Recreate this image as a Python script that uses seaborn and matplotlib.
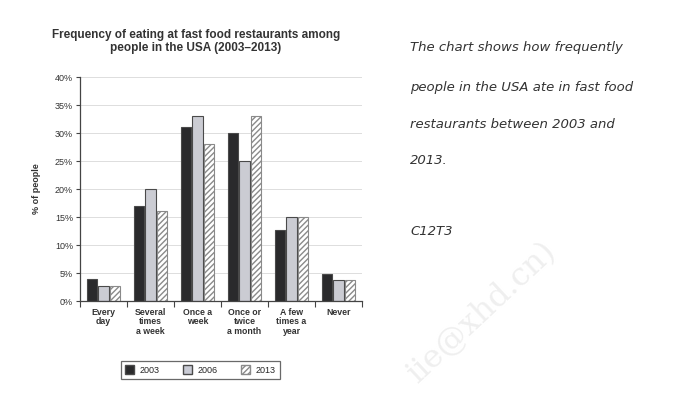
import pandas as pd
import numpy as np
import matplotlib.pyplot as plt
import seaborn as sns
from matplotlib.patches import Patch

categories = ["Every\nday", "Several\ntimes\na week", "Once a\nweek", "Once or\ntwice\na month", "A few\ntimes a\nyear", "Never"]
years = ["2003", "2006", "2013"]
vals_2003 = [4, 17, 31, 30, 12.7, 4.8]
vals_2006 = [2.7, 20, 33, 25, 15, 3.8]
vals_2013 = [2.7, 16, 28, 33, 15, 3.8]

df = pd.DataFrame({
    "cat": categories * 3,
    "year": [y for y in years for _ in categories],
    "pct": vals_2003 + vals_2006 + vals_2013,
})

sns.set_style("white")
plt.rcParams["font.family"] = ["Liberation Sans", "DejaVu Sans"]

fig = plt.figure(figsize=(6.99, 3.93), dpi=100)
ax = fig.add_axes([0.1144, 0.234, 0.4036, 0.570])

colors = {"2003": "#2a2a2c", "2006": "#c9cbd5", "2013": "#ffffff"}
sns.barplot(data=df, x="cat", y="pct", hue="year", palette=colors, order=categories,
            width=0.74, gap=0.12, edgecolor="#4a4a4a", linewidth=0.8, ax=ax, legend=False)

# hatch the 2013 bars
for bar in ax.containers[2]:
    bar.set_hatch("//////")
    bar.set_edgecolor("#8a8a8a")

ax.set_ylim(0, 40)
ax.set_xlim(-0.5, len(categories) - 0.5)
ax.set_yticks(np.arange(0, 41, 5))
ax.set_yticklabels([f"{v}%" for v in range(0, 41, 5)], fontsize=6.5, color="#333333")
ax.yaxis.grid(True, color="#dddddd", linewidth=0.7)
ax.set_axisbelow(True)
ax.tick_params(axis="y", length=3, width=0.8, color="#444444", pad=2, left=True)

ax.set_xticks(range(len(categories)))
ax.set_xticklabels(categories, fontsize=6.3, fontweight="bold", color="#333333", linespacing=1.05)
ax.set_xticks(np.arange(-0.5, len(categories), 1), minor=True)
ax.tick_params(axis="x", which="major", length=0, pad=5)
ax.tick_params(axis="x", which="minor", length=4, width=0.8, color="#444444", bottom=True)

for s in ["top", "right"]:
    ax.spines[s].set_visible(False)
for s in ["left", "bottom"]:
    ax.spines[s].set_color("#444444")
    ax.spines[s].set_linewidth(0.9)

ax.set_xlabel("")
ax.set_ylabel("% of people", fontsize=6.5, fontweight="bold", color="#333333", labelpad=10)

fig.text(0.280, 0.895, "Frequency of eating at fast food restaurants among\npeople in the USA (2003\u20132013)",
         ha="center", va="center", fontsize=8.5, fontweight="bold", color="#333333", linespacing=1.1)

handles = [Patch(facecolor=colors[y], edgecolor="#4a4a4a" if y != "2013" else "#8a8a8a",
                 hatch="//////" if y == "2013" else None, label=y)
           for y in years]
leg = fig.legend(handles=handles, loc="center", bbox_to_anchor=(0.2865, 0.0585), ncol=3, fontsize=6.5,
                 frameon=True, fancybox=False, edgecolor="#444444", handlelength=1.0, handleheight=1.0,
                 columnspacing=2.6, handletextpad=0.6, borderpad=0.5)
leg.get_frame().set_linewidth(0.9)

notes = ["The chart shows how frequently", "people in the USA ate in fast food",
         "restaurants between 2003 and", "2013.", "C12T3"]
ys = [48, 87, 124, 160, 232]
for t, y in zip(notes, ys):
    fig.text(410 / 699, 1 - y / 393, t, fontsize=9.5, style="italic", color="#333333",
             va="center", ha="left", family=["DejaVu Sans"])

fig.text(482 / 699, 1 - 312 / 393, "iie@xhd.cn)", fontsize=23, rotation=43, color="#efefef",
         ha="center", va="center", family=["DejaVu Serif"])

fig.savefig("out.png", dpi=100)
